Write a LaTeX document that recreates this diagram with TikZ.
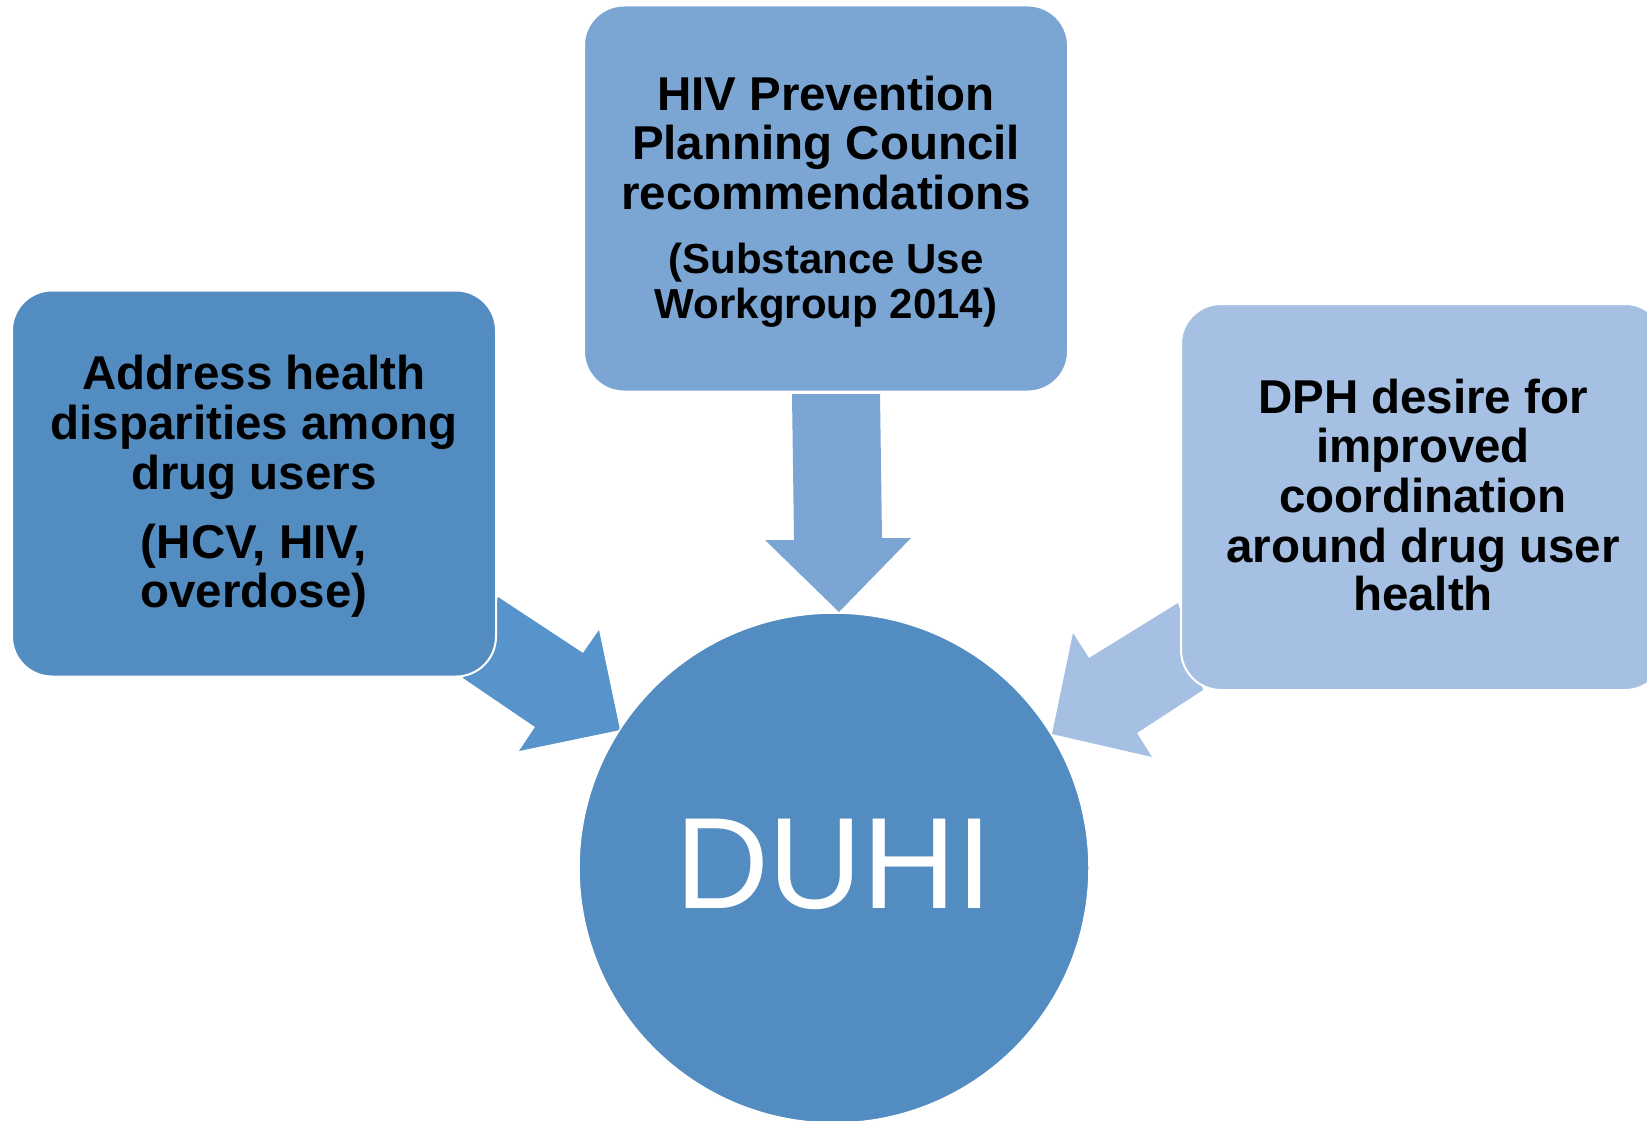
\documentclass[tikz,border=0pt]{standalone}
\usepackage{fontspec}
\setmainfont{Liberation Sans}
\definecolor{boxA}{HTML}{528CC0}
\definecolor{arrA}{HTML}{5694CB}
\definecolor{boxB}{HTML}{7BA6D4}
\definecolor{boxC}{HTML}{A5C0E3}
\tikzset{
  srcbox/.style={rounded corners=40pt, draw=white, line width=2pt, minimum width=484pt, minimum height=386pt, inner sep=0pt},
  blockarrow/.style={draw=none},
  maintext/.style={anchor=base, inner sep=0pt, font=\bfseries\fontsize{47.5}{49}\selectfont},
  subtext/.style={anchor=base, inner sep=0pt, font=\bfseries\fontsize{42}{45}\selectfont}
}
\begin{document}
\begin{tikzpicture}[x=1pt,y=-1pt]
\clip (0,0) rectangle (1647,1121);
\fill[white] (0,0) rectangle (1647,1121);

% block arrows (drawn beneath the boxes)
\fill[arrA, blockarrow] (498,597) -- (583,653) -- (599,630) -- (620,730) -- (519,751) -- (535,727) -- (463,678) -- cycle;
\fill[boxB, blockarrow] (792,394) -- (880,394) -- (882,538) -- (911,538) -- (839,612) -- (765,540) -- (794,540) -- cycle;
\fill[boxC, blockarrow] (1178,603) -- (1089,658) -- (1073,633) -- (1052,734) -- (1152,757) -- (1137,733) -- (1203,690) -- cycle;

% boxes
\node[srcbox, fill=boxA] (left) at (254,483.5) {};
\node[srcbox, fill=boxB] (top) at (826,198.5) {};
\node[srcbox, fill=boxC] (right) at (1423,497) {};

% centre circle
\node[circle, fill=boxA, draw=white, line width=1.5pt, minimum size=510pt, inner sep=0pt] (duhi) at (834,868) {};
\node[anchor=base, inner sep=0pt, text=white, font=\fontsize{130}{130}\selectfont] (duhitext) at (834,908) {DUHI};

% left box text
\node[maintext] (l1) at (254,389) {Address health};
\node[maintext] (l2) at (254,439) {disparities among};
\node[maintext] (l3) at (254,489) {drug users};
\node[maintext] (l4) at (254,558) {(HCV, HIV,};
\node[maintext] (l5) at (254,607) {overdose)};

% top box text
\node[maintext] (t1) at (826,111) {HIV Prevention};
\node[maintext] (t2) at (826,160) {Planning Council};
\node[maintext] (t3) at (826,209) {recommendations};
\node[subtext] (t4) at (826,273) {(Substance Use};
\node[subtext] (t5) at (826,318) {Workgroup 2014)};

% right box text
\node[maintext] (r1) at (1423,413) {DPH desire for};
\node[maintext] (r2) at (1423,462) {improved};
\node[maintext] (r3) at (1423,512) {coordination};
\node[maintext] (r4) at (1423,562) {around drug user};
\node[maintext] (r5) at (1423,610) {health};
\end{tikzpicture}
\end{document}
